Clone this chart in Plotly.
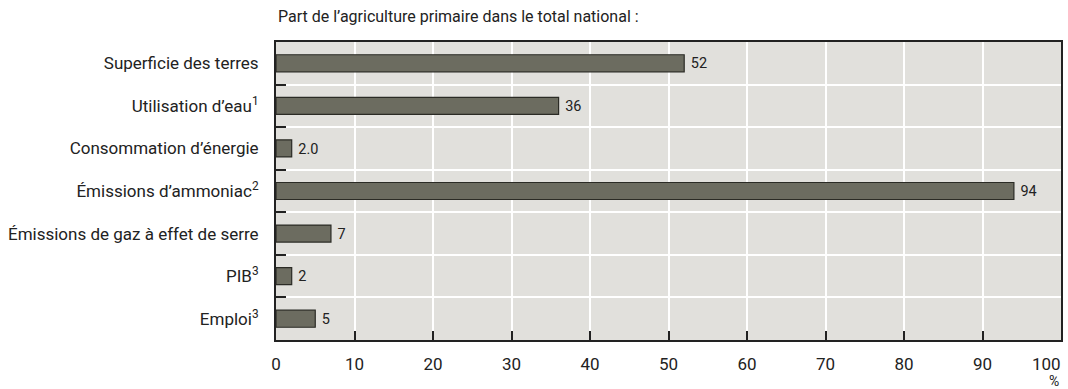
import plotly.graph_objects as go

categories = ["Superficie des terres", "Utilisation d’eau<sup>1</sup>", "Consommation d’énergie",
              "Émissions d’ammoniac<sup>2</sup>", "Émissions de gaz à effet de serre",
              "PIB<sup>3</sup>", "Emploi<sup>3</sup>"]
values = [52, 36, 2.0, 94, 7, 2, 5]
labels = ["52", "36", "2.0", "94", "7", "2", "5"]
x_ticks = [0, 10, 20, 30, 40, 50, 60, 70, 80, 90, 100]

FONT = "Roboto, Liberation Sans Narrow, sans-serif"

# last tick label is drawn right-aligned at the axis end (as in the reference)
x_ticktext = [str(v) for v in x_ticks[:-1]] + [""]

fig = go.Figure(go.Bar(
    y=categories, x=values, orientation="h",
    width=0.4,
    marker=dict(color="#6c6c60", line=dict(color="#2b2b25", width=1.2)),
    text=["\u00a0" + t for t in labels], textposition="outside", cliponaxis=False,
    textfont=dict(family=FONT, size=17, color="#222"),
))

fig.update_layout(
    width=1068, height=389,
    margin=dict(l=276, r=7, t=42, b=49, autoexpand=False),
    paper_bgcolor="white", plot_bgcolor="#e1e0dc",
    showlegend=False,
    font=dict(family=FONT, size=17, color="#222"),
    bargap=0.6,
)
fig.update_xaxes(
    range=[0, 100], tickvals=x_ticks, ticktext=x_ticktext,
    showgrid=True, gridcolor="white", gridwidth=2,
    ticks="inside", ticklen=9, tickcolor="#222", tickwidth=1.5,
    showline=True, linecolor="#222", linewidth=2, mirror=True,
    zeroline=False, tickfont=dict(size=17), ticklabelstandoff=8,
    automargin=False,
)
fig.update_yaxes(
    autorange="reversed", type="category", tickson="boundaries",
    showgrid=True, gridcolor="white", gridwidth=2,
    ticks="inside", ticklen=10, tickcolor="#222", tickwidth=1.5,
    showline=True, linecolor="#222", linewidth=2, mirror=True,
    tickfont=dict(size=17), ticklabelstandoff=12, automargin=False,
)
fig.add_annotation(text=str(x_ticks[-1]), xref="x", yref="paper", x=x_ticks[-1], y=0,
                   yshift=-24, xshift=2, xanchor="right", yanchor="middle",
                   showarrow=False, font=dict(family=FONT, size=17, color="#222"))
fig.add_annotation(text="Part de l’agriculture primaire dans le total national :",
                   xref="paper", yref="paper", x=0, y=1, yshift=26, xanchor="left", yanchor="middle",
                   showarrow=False, font=dict(family=FONT, size=16, color="#222"))
fig.add_annotation(text="%", xref="paper", yref="paper", x=1, y=0, yshift=-41,
                   xanchor="right", yanchor="middle", showarrow=False,
                   font=dict(family=FONT, size=14, color="#222"))

fig.write_html("out.html")
